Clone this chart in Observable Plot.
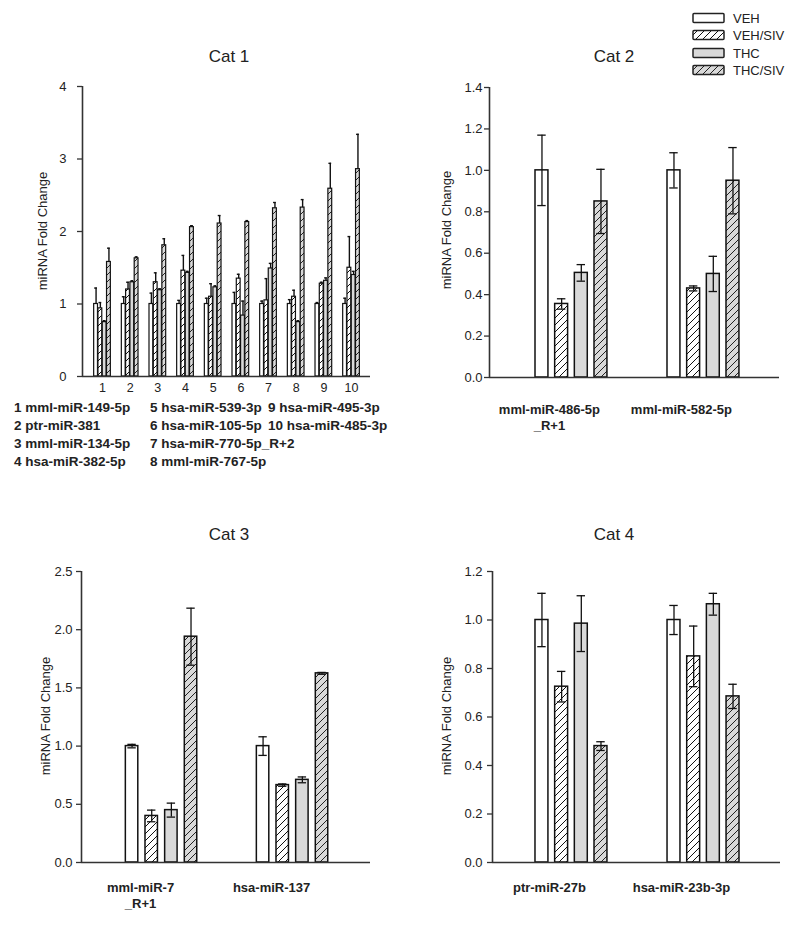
<!DOCTYPE html>
<html><head><meta charset="utf-8">
<script src="https://cdn.jsdelivr.net/npm/d3@7"></script>
<script src="https://cdn.jsdelivr.net/npm/@observablehq/plot@0.6"></script>
<style>
body{margin:0;background:#fff;font-family:"Liberation Sans",Arial,sans-serif;color:#222}
#root{position:relative;width:800px;height:933px;overflow:hidden}
.pl{position:absolute}
.title{position:absolute;font-size:17px;transform:translate(-50%,-50%);white-space:nowrap}
.ylab{position:absolute;font-size:13px;white-space:nowrap;transform:translate(-50%,-50%) rotate(-90deg)}
.map{position:absolute;font-size:13.5px;font-weight:bold;white-space:nowrap;transform:translateY(-50%)}
.leg{position:absolute;font-size:13px;white-space:nowrap;transform:translateY(-50%)}
.sw{position:absolute}
</style></head><body>
<svg width="0" height="0" style="position:absolute"><defs>
<pattern id="hatchW" patternUnits="userSpaceOnUse" width="7" height="7"><rect width="7" height="7" fill="#fff"/><path d="M-1,1 L1,-1 M0,7 L7,0 M6,8 L8,6" stroke="#111" stroke-width="1"/></pattern>
<pattern id="hatchG" patternUnits="userSpaceOnUse" width="7" height="7"><rect width="7" height="7" fill="#d9d9d9"/><path d="M-1,1 L1,-1 M0,7 L7,0 M6,8 L8,6" stroke="#222" stroke-width="1"/></pattern>
</defs></svg>
<div id="root"></div>
<script>
// ---------- DATA ----------
const seriesNames = ["VEH", "VEH/SIV", "THC", "THC/SIV"];

const cat1Ids = [1, 2, 3, 4, 5, 6, 7, 8, 9, 10];
const cat1Names = ["mml-miR-149-5p", "ptr-miR-381", "mml-miR-134-5p", "hsa-miR-382-5p", "hsa-miR-539-3p",
  "hsa-miR-105-5p", "hsa-miR-770-5p_R+2", "mml-miR-767-5p", "hsa-miR-495-3p", "hsa-miR-485-3p"];
const cat1VEH      = [1.00, 1.00, 1.00, 1.00, 1.00, 1.00, 1.00, 1.00, 1.00, 1.00];
const cat1VEHsiv   = [0.94, 1.20, 1.30, 1.46, 1.10, 1.35, 1.05, 1.10, 1.28, 1.50];
const cat1THC      = [0.75, 1.30, 1.19, 1.43, 1.23, 0.84, 1.49, 0.75, 1.32, 1.40];
const cat1THCsiv   = [1.58, 1.63, 1.81, 2.06, 2.11, 2.13, 2.32, 2.33, 2.59, 2.86];
const cat1VEHerr    = [0.22, 0.10, 0.15, 0.05, 0.08, 0.16, 0.04, 0.06, 0.02, 0.08];
const cat1VEHsivErr = [0.08, 0.10, 0.13, 0.21, 0.18, 0.06, 0.30, 0.09, 0.02, 0.43];
const cat1THCerr    = [0.02, 0.02, 0.02, 0.02, 0.02, 0.20, 0.07, 0.02, 0.04, 0.05];
const cat1THCsivErr = [0.19, 0.02, 0.09, 0.02, 0.11, 0.02, 0.08, 0.11, 0.35, 0.48];
const cat1Ticks = [0, 1, 2, 3, 4];

const cat2Groups = ["mml-miR-486-5p\n_R+1", "mml-miR-582-5p"];
const cat2VEH = [1.00, 1.00],     cat2VEHerr = [0.17, 0.085];
const cat2VEHsiv = [0.355, 0.43], cat2VEHsivErr = [0.025, 0.012];
const cat2THC = [0.505, 0.50],    cat2THCerr = [0.04, 0.085];
const cat2THCsiv = [0.85, 0.95],  cat2THCsivErr = [0.155, 0.16];
const cat2Ticks = [0, 0.2, 0.4, 0.6, 0.8, 1.0, 1.2, 1.4];

const cat3Groups = ["mml-miR-7\n_R+1", "hsa-miR-137"];
const cat3VEH = [1.00, 1.00],     cat3VEHerr = [0.015, 0.08];
const cat3VEHsiv = [0.40, 0.665], cat3VEHsivErr = [0.05, 0.01];
const cat3THC = [0.45, 0.71],     cat3THCerr = [0.06, 0.025];
const cat3THCsiv = [1.94, 1.625], cat3THCsivErr = [0.245, 0.008];
const cat3Ticks = [0, 0.5, 1.0, 1.5, 2.0, 2.5];

const cat4Groups = ["ptr-miR-27b", "hsa-miR-23b-3p"];
const cat4VEH = [1.00, 1.00],     cat4VEHerr = [0.11, 0.06];
const cat4VEHsiv = [0.725, 0.85], cat4VEHsivErr = [0.063, 0.125];
const cat4THC = [0.985, 1.065],   cat4THCerr = [0.115, 0.045];
const cat4THCsiv = [0.48, 0.685], cat4THCsivErr = [0.018, 0.05];
const cat4Ticks = [0, 0.2, 0.4, 0.6, 0.8, 1.0, 1.2];

// ---------- STYLE ----------
const fills = ["#ffffff", "url(#hatchW)", "#d9d9d9", "url(#hatchG)"];
const FONT = '"Liberation Sans", Arial, sans-serif';
const root = document.getElementById("root");

function panel(cfg) {
  const rows = [];
  cfg.groupPos.forEach((gx, gi) => {
    seriesNames.forEach((s, si) => {
      rows.push({gx, si, s, m: cfg.means[si][gi], e: cfg.errs[si][gi]});
    });
  });
  const c = d => d.gx + (d.si - 1.5) * cfg.step;
  const hw = cfg.barW / 2, cw = cfg.capW / 2;
  const marks = [];
  seriesNames.forEach((s, si) => {
    marks.push(Plot.rect(rows.filter(d => d.si === si), {
      x1: d => c(d) - hw, x2: d => c(d) + hw, y1: 0, y2: "m",
      fill: fills[si], stroke: "#111", strokeWidth: cfg.barStroke
    }));
  });
  marks.push(Plot.ruleX(rows, {x: c, y1: d => cfg.twoSided ? d.m - d.e : d.m, y2: d => d.m + d.e, stroke: "#111", strokeWidth: cfg.errStroke}));
  marks.push(Plot.ruleY(rows, {y: d => d.m + d.e, x1: d => c(d) - cw, x2: d => c(d) + cw, stroke: "#111", strokeWidth: cfg.errStroke}));
  if (cfg.twoSided) marks.push(Plot.ruleY(rows, {y: d => d.m - d.e, x1: d => c(d) - cw, x2: d => c(d) + cw, stroke: "#111", strokeWidth: cfg.errStroke}));
  marks.push(Plot.ruleY([0], {stroke: "#333", strokeWidth: 1.6}));
  marks.push(Plot.ruleX([cfg.xDomain[0]], {stroke: "#333", strokeWidth: 1.6}));
  marks.push(Plot.axisY({ticks: cfg.yTicks, tickFormat: cfg.tickFormat, tickSize: 5, tickPadding: cfg.tickPad, label: null, stroke: "#333", strokeWidth: 1.3, fontSize: 13}));
  if (cfg.xTicks) {
    marks.push(Plot.axisX({ticks: cfg.xTicks, tickSize: 0, tickPadding: 7, label: null, fontSize: 12.5, tickFormat: d => String(d)}));
  }
  if (cfg.groupLabels) {
    marks.push(Plot.text(cfg.groupLabels, {
      x: (d, i) => cfg.groupPos[i] + cfg.labelShift, y: 0, text: d => d, dy: cfg.labelDy,
      lineAnchor: "top", fontWeight: "bold", fontSize: 13, lineHeight: 1.3, fill: "#222"
    }));
  }
  const svg = Plot.plot({
    width: cfg.width, height: cfg.height,
    marginLeft: cfg.ml, marginRight: cfg.mr, marginTop: cfg.mt, marginBottom: cfg.mb,
    x: {domain: cfg.xDomain, axis: null},
    y: {domain: cfg.yDomain, axis: null},
    style: {fontFamily: FONT, fontSize: "13px", color: "#222", background: "transparent", overflow: "visible"},
    marks
  });
  svg.classList.add("pl");
  svg.style.left = cfg.left + "px";
  svg.style.top = cfg.top + "px";
  root.appendChild(svg);
}

function addDiv(cls, text, x, y) {
  const d = document.createElement("div");
  d.className = cls; d.textContent = text;
  d.style.left = x + "px"; d.style.top = y + "px";
  root.appendChild(d);
  return d;
}

// Cat 1
panel({
  left: 0, top: 60, width: 400, height: 340, ml: 82, mr: 30, mt: 26, mb: 24,
  groupPos: cat1Ids, xDomain: [0.277, 10.686], step: 0.155, barW: 0.138, capW: 0.1,
  means: [cat1VEH, cat1VEHsiv, cat1THC, cat1THCsiv],
  errs: [cat1VEHerr, cat1VEHsivErr, cat1THCerr, cat1THCsivErr],
  twoSided: false, yDomain: [0, 4], yTicks: cat1Ticks, tickFormat: d3.format("d"), tickPad: 11,
  xTicks: cat1Ids, barStroke: 1.2, errStroke: 1.4
});
// Cat 2
panel({
  left: 400, top: 60, width: 400, height: 380, ml: 89, mr: 21, mt: 27, mb: 63,
  groupPos: [0, 1], xDomain: [-0.621, 1.576], step: 0.149, barW: 0.098, capW: 0.064,
  means: [cat2VEH, cat2VEHsiv, cat2THC, cat2THCsiv],
  errs: [cat2VEHerr, cat2VEHsivErr, cat2THCerr, cat2THCsivErr],
  twoSided: true, yDomain: [0, 1.4], yTicks: cat2Ticks, tickFormat: d3.format(".1f"), tickPad: 2,
  groupLabels: cat2Groups, labelDy: 24, labelShift: -0.167, barStroke: 1.5, errStroke: 1.3
});
// Cat 3
panel({
  left: 0, top: 545, width: 400, height: 380, ml: 81, mr: 30, mt: 26, mb: 63,
  groupPos: [0, 1], xDomain: [-0.611, 1.595], step: 0.150, barW: 0.095, capW: 0.064,
  means: [cat3VEH, cat3VEHsiv, cat3THC, cat3THCsiv],
  errs: [cat3VEHerr, cat3VEHsivErr, cat3THCerr, cat3THCsivErr],
  twoSided: true, yDomain: [0, 2.5], yTicks: cat3Ticks, tickFormat: d3.format(".1f"), tickPad: 4,
  groupLabels: cat3Groups, labelDy: 17, labelShift: -0.16, barStroke: 1.5, errStroke: 1.3
});
// Cat 4
panel({
  left: 400, top: 545, width: 400, height: 380, ml: 92, mr: 20, mt: 26, mb: 63,
  groupPos: [0, 1], xDomain: [-0.598, 1.583], step: 0.149, barW: 0.098, capW: 0.064,
  means: [cat4VEH, cat4VEHsiv, cat4THC, cat4THCsiv],
  errs: [cat4VEHerr, cat4VEHsivErr, cat4THCerr, cat4THCsivErr],
  twoSided: true, yDomain: [0, 1.2], yTicks: cat4Ticks, tickFormat: d3.format(".1f"), tickPad: 5,
  groupLabels: cat4Groups, labelDy: 17, labelShift: -0.167, barStroke: 1.5, errStroke: 1.3
});

// Titles
addDiv("title", "Cat 1", 229, 57);
addDiv("title", "Cat 2", 614, 57);
addDiv("title", "Cat 3", 229, 535);
addDiv("title", "Cat 4", 614, 535);
// Y labels
addDiv("ylab", "miRNA Fold Change", 42, 231);
addDiv("ylab", "miRNA Fold Change", 446, 230);
addDiv("ylab", "miRNA Fold Change", 45, 716);
addDiv("ylab", "miRNA Fold Change", 446, 716);

// Cat 1 key list
const colX = [14, 150, 268], rowY = [407, 425, 443, 461];
cat1Names.forEach((n, i) => {
  const col = Math.floor(i / 4), row = i % 4;
  addDiv("map", cat1Ids[i] + " " + n, colX[col], rowY[row]);
});

// Legend
const legY = [18, 35, 53, 70];
seriesNames.forEach((s, i) => {
  const ns = "http://www.w3.org/2000/svg";
  const sv = document.createElementNS(ns, "svg");
  sv.setAttribute("width", 34); sv.setAttribute("height", 12);
  sv.setAttribute("class", "sw");
  sv.style.left = "692px"; sv.style.top = (legY[i] - 6) + "px";
  const r = document.createElementNS(ns, "rect");
  r.setAttribute("x", 1); r.setAttribute("y", 1.5); r.setAttribute("width", 31); r.setAttribute("height", 9);
  r.setAttribute("fill", fills[i]); r.setAttribute("stroke", "#222"); r.setAttribute("stroke-width", 1.5);
  r.setAttribute("rx", 1);
  sv.appendChild(r);
  root.appendChild(sv);
  addDiv("leg", s, 733, legY[i]);
});
</script>
</body></html>
